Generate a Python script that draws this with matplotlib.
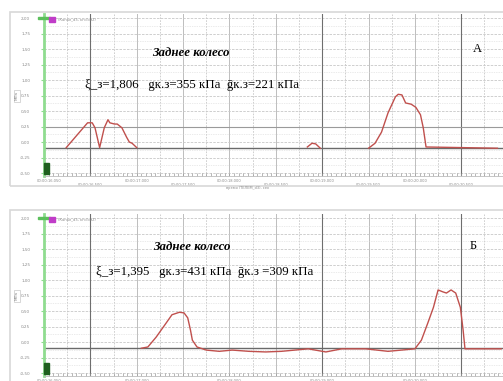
import matplotlib.pyplot as plt
import matplotlib.patches as patches
import numpy as np

W, H = 503, 381

# pressure traces, time in s, value in display units
top_t1 = [16.24, 16.47, 16.52, 16.55, 16.60, 16.65, 16.69, 16.71, 16.76, 16.79, 16.84, 16.89, 16.92, 16.95, 17.00]
top_v1 = [-0.09, 0.31, 0.31, 0.23, -0.09, 0.23, 0.36, 0.31, 0.29, 0.29, 0.23, 0.08, 0.00, -0.02, -0.09]
top_t2 = [18.84, 18.89, 18.93, 18.98]
top_v2 = [-0.08, -0.02, -0.03, -0.10]
top_t3 = [19.50, 19.57, 19.64, 19.71, 19.79, 19.82, 19.86, 19.90, 19.96, 20.01, 20.06, 20.09, 20.12, 20.89]
top_v3 = [-0.10, -0.02, 0.16, 0.47, 0.73, 0.77, 0.76, 0.63, 0.61, 0.56, 0.44, 0.23, -0.08, -0.10]

bot_t = [17.05, 17.12, 17.21, 17.30, 17.38, 17.46, 17.51, 17.55, 17.58, 17.60, 17.65, 17.75, 17.89,
         18.03, 18.21, 18.39, 18.56, 18.85, 19.04, 19.21, 19.47, 19.71, 20.00, 20.07, 20.14, 20.20,
         20.25, 20.30, 20.34, 20.39, 20.44, 20.49, 20.52, 20.54, 20.71, 20.93]
bot_v = [-0.10, -0.08, 0.08, 0.27, 0.44, 0.48, 0.47, 0.39, 0.19, 0.03, -0.08, -0.13, -0.15,
         -0.13, -0.15, -0.16, -0.15, -0.11, -0.16, -0.11, -0.11, -0.15, -0.11, 0.03, 0.31, 0.56,
         0.84, 0.81, 0.79, 0.84, 0.79, 0.56, 0.19, -0.11, -0.11, -0.11]

baseline = -0.10
y_ticks = [2.0, 1.75, 1.5, 1.25, 1.0, 0.75, 0.5, 0.25, 0.0, -0.25, -0.5]
y_labels = ['2,00', '1,75', '1,50', '1,25', '1,00', '0,75', '0,50', '0,25', '0,00', '-0,25', '-0,50']
x_labels_t = [16.05, 16.5, 17.0, 17.5, 18.0, 18.5, 19.0, 19.5, 20.0, 20.5]
marker_t = [16.5, 19.0, 20.5]

texts_top = ['ξ_з=1,806   gк.з=355 кПа  ḡк.з=221 кПа', 'А']
texts_bot = ['ξ_з=1,395   gк.з=431 кПа  ḡк.з =309 кПa', 'Б']

red = '#c0504d'
t0 = 16.0
px_per_s = 93.2
ylim = (-0.548, 2.065)


def fx(px):
    return px / W


def fy(py):
    return 1 - py / H


fig = plt.figure(figsize=(W / 100, H / 100), dpi=100)
fig.patch.set_facecolor('white')

# light frames around each chart
for top, h in [(12, 174), (210, 180)]:
    fig.patches.append(patches.Rectangle((fx(10), fy(top + h)), fx(500), h / H,
                                         transform=fig.transFigure, facecolor='none',
                                         edgecolor='#d8d8d8', linewidth=1.2, zorder=0))


def panel(ax_top_px, segments, texts, title_xy, text_xy, letter_xy, solid_h):
    ax = fig.add_axes([fx(44), fy(ax_top_px + 162), 1 - fx(44), 162 / H])
    ax.set_xlim(t0, t0 + (W - 44) / px_per_s)
    ax.set_ylim(*ylim)
    ax.set_facecolor('none')

    # grid
    for t in np.arange(16.25, 21.0, 0.25):
        if abs(t * 2 - round(t * 2)) < 1e-6:
            ax.axvline(t, color='#bdbdbd', lw=0.7, zorder=1)
        else:
            ax.axvline(t, color='#c8c8c8', lw=0.6, ls=(0, (2, 1.5)), zorder=1)
    for t in marker_t:
        ax.axvline(t, color='#6e6e6e', lw=0.8, zorder=1.5)
    for v in y_ticks:
        ax.axhline(v, color='#c8c8c8', lw=0.6, ls=(0, (3, 1.5)), zorder=1)
    for v in np.array(y_ticks[:-1]) - 0.125:
        ax.axhline(v, color='#d6d6d6', lw=0.5, ls=(0, (1, 1.5)), zorder=1)
    if solid_h is not None:
        ax.axhline(solid_h, color='#9a9a9a', lw=0.8, zorder=1.5)
    ax.axhline(baseline, color='#6a6a6a', lw=1.0, zorder=2)

    for t, v in segments:
        ax.plot(t, v, color=red, lw=1.0, zorder=3)

    for s in ['top', 'right']:
        ax.spines[s].set_visible(False)
    ax.spines['bottom'].set_color('#bdbdbd')
    ax.spines['bottom'].set_linewidth(0.6)
    ax.spines['left'].set_color('#8fdc8f')
    ax.spines['left'].set_linewidth(2.0)

    ax.set_yticks(y_ticks)
    ax.set_yticklabels(y_labels, fontsize=3, color='#8a8a8a')
    ax.tick_params(axis='y', length=2, color='#8fdc8f', pad=8)
    ax.set_xticks(np.arange(16.0, 21.0, 0.05), minor=True)
    ax.set_xticks([])
    ax.tick_params(axis='x', which='minor', length=2, direction='in', color='#9a9a9a', width=0.5)

    # time labels in two staggered rows
    tr = ax.get_xaxis_transform()
    for i, t in enumerate(x_labels_t):
        s = int(t)
        ms = int(round((t - s) * 1000))
        ax.text(t, -0.02 if i % 2 == 0 else -0.045, '00:00:%02d.%03d' % (s, ms),
                transform=tr, fontsize=2.6, color='#8a8a8a', ha='center', va='top')

    # channel marker and legend at the top of the axis
    fig.patches.append(patches.Rectangle((fx(38), fy(ax_top_px + 5)), fx(12), 2.5 / H,
                                         transform=fig.transFigure, color='#5cc05c'))
    fig.patches.append(patches.Rectangle((fx(49), fy(ax_top_px + 8)), fx(6), 5 / H,
                                         transform=fig.transFigure, color='#c03cc8'))
    fig.text(fx(58), fy(ax_top_px + 5), '(Канал_d3, кгс/см2)', fontsize=2.6, color='#8a8a8a',
             va='center')
    fig.patches.append(patches.Rectangle((fx(43.5), fy(ax_top_px + 160)), fx(5), 11 / H,
                                         transform=fig.transFigure, color='#1f5f1f'))
    fig.text(fx(17), fy(ax_top_px + 82), 'МПа', fontsize=3, color='#8a8a8a', rotation=90,
             ha='center', va='center',
             bbox=dict(boxstyle='square,pad=0.3', fc='white', ec='#c8c8c8', lw=0.5))

    fig.text(fx(title_xy[0]), fy(title_xy[1]), 'Заднее колесо', fontsize=9.3,
             family='Liberation Serif', style='italic', weight='bold', ha='center', va='center')
    fig.text(fx(text_xy[0]), fy(text_xy[1]), texts[0], fontsize=9.3,
             family='Liberation Serif', ha='left', va='center')
    fig.text(fx(letter_xy[0]), fy(letter_xy[1]), texts[1], fontsize=9,
             family='Liberation Serif', ha='center', va='center')
    return ax


ax1 = panel(14, [(top_t1, top_v1), (top_t2, top_v2), (top_t3, top_v3)], texts_top,
            (191, 53), (85, 85), (477, 49), 0.25)
fig.text(fx(248), fy(188.5), 'время (ТЕЛЕМ_d3), сек', fontsize=2.6, color='#8a8a8a',
         ha='center', va='center')
ax2 = panel(214, [(bot_t, bot_v)], texts_bot, (192, 247), (96, 272), (473, 246), None)

fig.savefig('out.png', dpi=100, facecolor=fig.get_facecolor())
